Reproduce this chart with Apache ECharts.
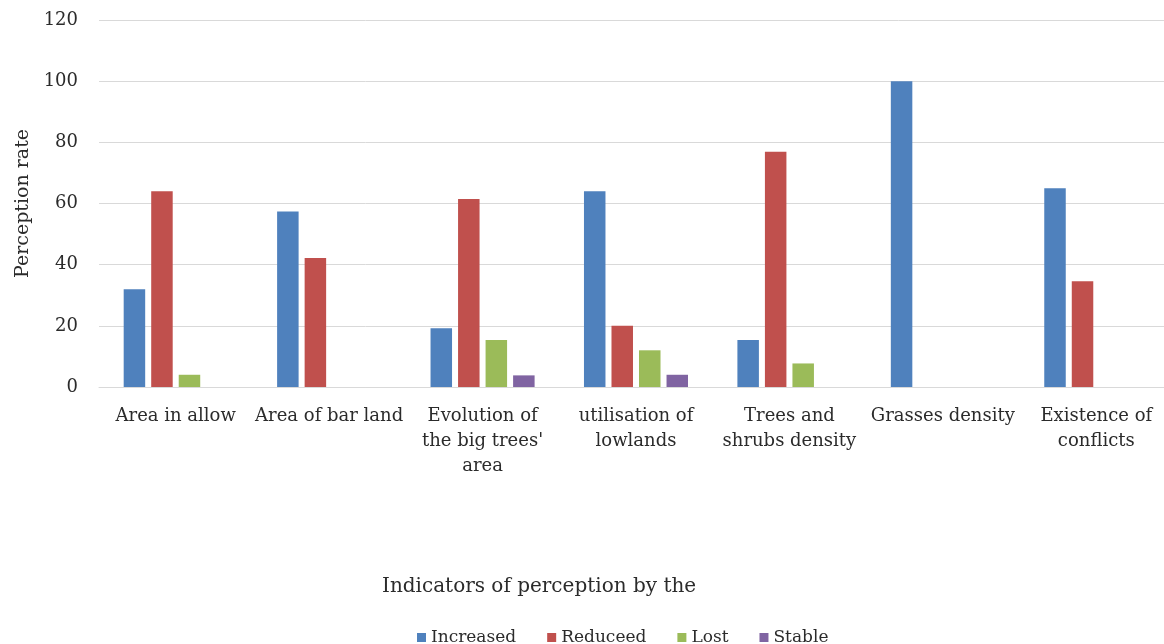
<!DOCTYPE html>
<html>
<head>
<meta charset="utf-8">
<style>
  html, body { margin: 0; padding: 0; background: #ffffff; }
  #chart { width: 1164px; height: 644px; }
</style>
<script src="https://cdn.jsdelivr.net/npm/echarts@6/dist/echarts.min.js"></script>
</head>
<body>
<div id="chart"></div>
<script>
// Perception indicators (categories on the x axis)
const categories = [
  'Area in allow',
  'Area of bar land',
  'Evolution of\nthe big trees\'\narea',
  'utilisation of\nlowlands',
  'Trees and\nshrubs density',
  'Grasses density',
  'Existence of\nconflicts'
];

// Share of respondents (%) per answer
const increased = [32, 57.4, 19.2, 64, 15.4, 100, 65];
const reduced   = [64, 42.2, 61.5, 20, 76.9, 0, 34.6];
const lost      = [4, 0, 15.4, 12, 7.7, 0, 0];
const stable    = [0, 0, 3.8, 4, 0, 0, 0];

const seriesNames = ['Increased', 'Reduceed', 'Lost', 'Stable'];
const seriesColors = ['#4F81BD', '#C0504D', '#9BBB59', '#8064A2'];

const yMin = 0, yMax = 120, yStep = 20;

const FONT = 'DejaVu Serif';
const TEXT = '#2b2b2b';

const chart = echarts.init(document.getElementById('chart'), null, { renderer: 'canvas' });

const values = [increased, reduced, lost, stable];

chart.setOption({
  backgroundColor: '#ffffff',
  animation: false,
  color: seriesColors,
  title: {
    text: 'Indicators of perception by the',
    left: 382,
    top: 577,
    padding: 0,
    textStyle: { fontFamily: FONT, fontSize: 20, fontWeight: 'normal', color: TEXT }
  },
  legend: {
    data: seriesNames,
    left: 417,
    top: 629,
    padding: 0,
    icon: 'rect',
    itemWidth: 9,
    itemHeight: 9,
    itemGap: 31,
    textStyle: { fontFamily: FONT, fontSize: 17, color: TEXT }
  },
  grid: {
    left: 99,
    top: 20,
    width: 1074,
    height: 367,
    containLabel: false,
    outerBoundsMode: 'none'
  },
  xAxis: {
    type: 'category',
    data: categories,
    axisLine: { show: true, lineStyle: { color: '#d9d9d9', width: 1 } },
    axisTick: { show: false },
    axisLabel: {
      interval: 0,
      margin: 17,
      fontFamily: FONT,
      fontSize: 18,
      lineHeight: 25,
      color: TEXT,
      align: 'center'
    }
  },
  yAxis: {
    type: 'value',
    min: yMin,
    max: yMax,
    interval: yStep,
    name: 'Perception rate',
    nameLocation: 'middle',
    nameGap: 66,
    nameTextStyle: { fontFamily: FONT, fontSize: 19, color: TEXT },
    axisLine: { show: false },
    axisTick: { show: false },
    splitLine: { show: true, lineStyle: { color: '#d9d9d9', width: 1 } },
    axisLabel: { margin: 21, fontFamily: FONT, fontSize: 18, color: TEXT }
  },
  series: seriesNames.map((name, i) => ({
    name: name,
    type: 'bar',
    data: values[i],
    barWidth: 21.5,
    barGap: '28%',
    itemStyle: { color: seriesColors[i] }
  }))
});
</script>
</body>
</html>
